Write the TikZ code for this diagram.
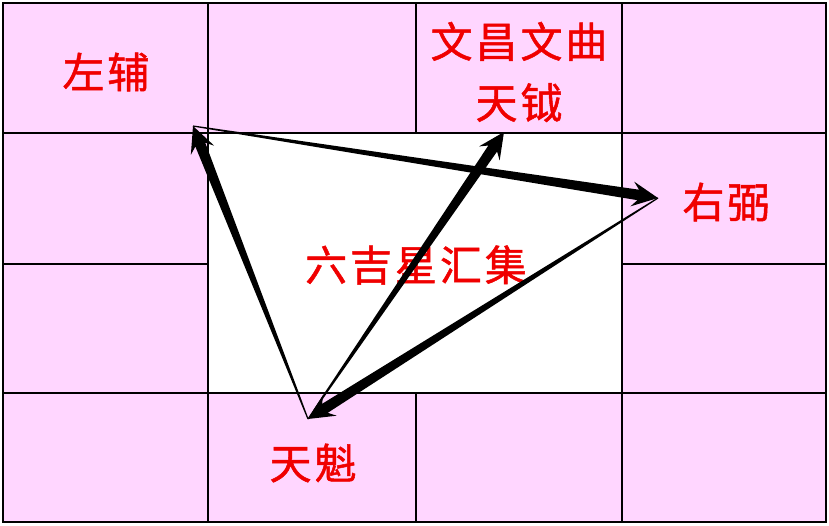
\documentclass[tikz,border=0pt]{standalone}
\usepackage{fontspec}
\newfontfamily\cjk[LetterSpace=7, FakeBold=1.2]{Noto Sans CJK SC}
\usetikzlibrary{calc, positioning}
\definecolor{cellpink}{RGB}{255,214,255}
\definecolor{starred}{RGB}{240,0,0}
\def\headlen{26pt}
\def\neck{20pt}
\def\headw{12.5pt}
\def\shaftw{5.3pt}
\newcommand\taperarrow[2]{
    \path ($(#2)!\neck!(#1)$) coordinate (tb) ($(#2)!\headlen!(#1)$) coordinate (tc);
    \fill[black] ($(#1)!0.6pt!90:(#2)$) -- ($(tb)!\shaftw!-90:(#1)$) -- ($(tc)!\headw!-90:(#1)$) -- (#2)
        -- ($(tc)!\headw!90:(#1)$) -- ($(tb)!\shaftw!90:(#1)$) -- ($(#1)!0.6pt!-90:(#2)$) -- cycle;
    }
\tikzset{
    gridline/.style = {draw=black, line width=1.4pt},
    starlabel/.style = {font=\cjk\fontsize{42}{61}\selectfont, text=starred, align=center, inner sep=0pt},
}

\begin{document}
\begin{tikzpicture}[x=1pt, y=-1pt]
        \useasboundingbox (0,0) rectangle (829,525);
        % Fill the cells
        \fill[cellpink] (3,3) rectangle (826,522);
        \fill[white] (208,133) rectangle (622,393);
        % Draw grid
        \foreach \x in {208, 622}{
            \draw[gridline] (\x,3) -- (\x,522);
        }
        \foreach \y in {133, 393}{
            \draw[gridline] (3,\y) -- (826,\y);
        }
        \draw[gridline] (416,3) -- (416,133) (416,393) -- (416,522);
        \draw[gridline] (3,264) -- (208,264) (622,264) -- (826,264);
        \draw[gridline, line width=2pt] (208,133) rectangle (622,393);
        \draw[gridline, line width=2pt] (3,3) rectangle (826,522);

        % Place the stars
        \node[starlabel] (zuofu) at (106,72) {左辅};
        \node[starlabel] (wenchang) at (519,72) {文昌文曲\\天钺};
        \node[starlabel] (youbi) at (726,202) {右弼};
        \node[starlabel] (liuji) at (416,265) {六吉星汇集};
        \node[starlabel] (tiankui) at (313,463) {天魁};

        % Arrow ends
        \coordinate (kui-pt) at (308,419);
        \coordinate (fu-pt) at (193,126);
        \coordinate (chang-pt) at (504,132);
        \coordinate (bi-pt) at (658,198);

        % Draw connections
        \taperarrow{kui-pt}{fu-pt}
        \taperarrow{kui-pt}{chang-pt}
        \taperarrow{fu-pt}{bi-pt}
        \taperarrow{bi-pt}{kui-pt}
    \end{tikzpicture}
\end{document}
